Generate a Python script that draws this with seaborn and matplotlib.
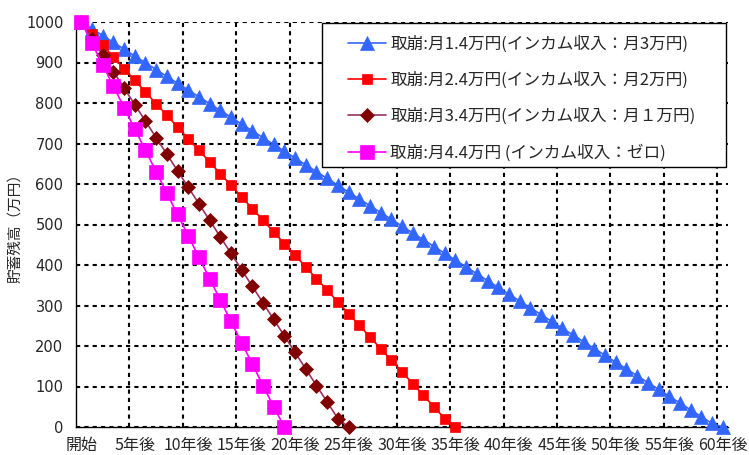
import numpy as np
import pandas as pd
import matplotlib
matplotlib.use("Agg")
import matplotlib.pyplot as plt
import matplotlib.patches as mpatches
import seaborn as sns

# ---- data ----
years = list(range(0, 61))
xtick_labels = ["開始", "5年後", "10年後", "15年後", "20年後", "25年後", "30年後",
                "35年後", "40年後", "45年後", "50年後", "55年後", "60年後"]

s1_label = "取崩:月1.4万円(インカム収入：月3万円)"
s1_values = [1000, 983.2, 966.4, 949.6, 932.8, 916, 899.2, 882.4, 865.6, 848.8,
             832, 815.2, 798.4, 781.6, 764.8, 748, 731.2, 714.4, 697.6, 680.8,
             664, 647.2, 630.4, 613.6, 596.8, 580, 563.2, 546.4, 529.6, 512.8,
             496, 479.2, 462.4, 445.6, 428.8, 412, 395.2, 378.4, 361.6, 344.8,
             328, 311.2, 294.4, 277.6, 260.8, 244, 227.2, 210.4, 193.6, 176.8,
             160, 143.2, 126.4, 109.6, 92.8, 76, 59.2, 42.4, 25.6, 8.8, 0]

s2_label = "取崩:月2.4万円(インカム収入：月2万円)"
s2_values = [1000, 971.2, 942.4, 913.6, 884.8, 856, 827.2, 798.4, 769.6, 740.8,
             712, 683.2, 654.4, 625.6, 596.8, 568, 539.2, 510.4, 481.6, 452.8,
             424, 395.2, 366.4, 337.6, 308.8, 280, 251.2, 222.4, 193.6, 164.8,
             136, 107.2, 78.4, 49.6, 20.8, 0]

s3_label = "取崩:月3.4万円(インカム収入：月１万円)"
s3_values = [1000, 959.2, 918.4, 877.6, 836.8, 796, 755.2, 714.4, 673.6, 632.8,
             592, 551.2, 510.4, 469.6, 428.8, 388, 347.2, 306.4, 265.6, 224.8,
             184, 143.2, 102.4, 61.6, 20.8, 0]

s4_label = "取崩:月4.4万円 (インカム収入：ゼロ)"
s4_values = [1000, 947.2, 894.4, 841.6, 788.8, 736, 683.2, 630.4, 577.6, 524.8,
             472, 419.2, 366.4, 313.6, 260.8, 208, 155.2, 102.4, 49.6, 0]

ylabel = "貯蓄残高（万円）"

# ---- style ----
sns.set_theme(style="white")
plt.rcParams['font.family'] = ['Noto Sans CJK JP', 'DejaVu Sans']

W, H = 749, 455
fig = plt.figure(figsize=(W / 100, H / 100), dpi=100)
ax = fig.add_axes([76 / W, 1 - 427 / H, (728 - 76) / W, (427 - 22) / H])

series = [
    (s1_label, s1_values, dict(marker="^", markersize=10, mc="#3366FF", line="#3366FF")),
    (s2_label, s2_values, dict(marker="s", markersize=6.5, mc="#FF0000", line="#FF0000")),
    (s3_label, s3_values, dict(marker="D", markersize=7, mc="#800000", line="#993366")),
    (s4_label, s4_values, dict(marker="s", markersize=10, mc="#FF00FF", line="#FF00FF")),
]

for i, (lab, vals, st) in enumerate(series):
    df = pd.DataFrame({"year": years[:len(vals)], "value": vals})
    sns.lineplot(data=df, x="year", y="value", ax=ax, color=st["line"], lw=1.2,
                 marker=st["marker"], markersize=st["markersize"],
                 markerfacecolor=st["mc"], markeredgecolor=st["mc"],
                 markeredgewidth=0.5, label=lab, zorder=3 + i, clip_on=False)

ax.set_xlim(-0.5, 60.5)
ax.set_ylim(0, 1000)
ax.set_xticks(list(range(0, 61, 5)))
ax.set_xticklabels(xtick_labels, fontsize=11.5)
ax.set_xticks(np.arange(4.5, 60, 5), minor=True)
ax.set_yticks(list(range(0, 1001, 100)))
ax.tick_params(axis='y', labelsize=10.5, length=0, pad=9)
ax.tick_params(axis='x', which='both', length=0, pad=7)
for lbl in ax.get_yticklabels():
    lbl.set_family(['DejaVu Sans'])

ax.grid(False)
ax.grid(which='minor', axis='x', color='black', linestyle=(0, (2, 2)), lw=1.5)
ax.grid(which='major', axis='y', color='black', linestyle=(0, (2, 2)), lw=1.5)
ax.set_axisbelow(True)

for side in ["top", "right"]:
    ax.spines[side].set_visible(False)
for side in ["left", "bottom"]:
    ax.spines[side].set_color("black")
    ax.spines[side].set_linewidth(1.0)

ax.set_xlabel("")
ax.set_ylabel(ylabel, fontsize=10.5, labelpad=3)

# legend frame drawn as a box in figure pixels
frame = mpatches.Rectangle((322 / W, 1 - 167 / H), (726 - 322) / W, (167 - 23) / H,
                           transform=fig.transFigure, facecolor="white",
                           edgecolor="black", lw=1.0, zorder=9)
ax.add_artist(frame)
frame.set_clip_on(False)

leg = ax.legend(loc="upper left", bbox_to_anchor=(348 / W, 1 - 36 / H),
                bbox_transform=fig.transFigure,
                fontsize=12, frameon=False, handlelength=2.25, handletextpad=0.3,
                labelspacing=1.13, borderpad=0, borderaxespad=0)
leg.set_zorder(10)

fig.savefig("out.png", dpi=100)
